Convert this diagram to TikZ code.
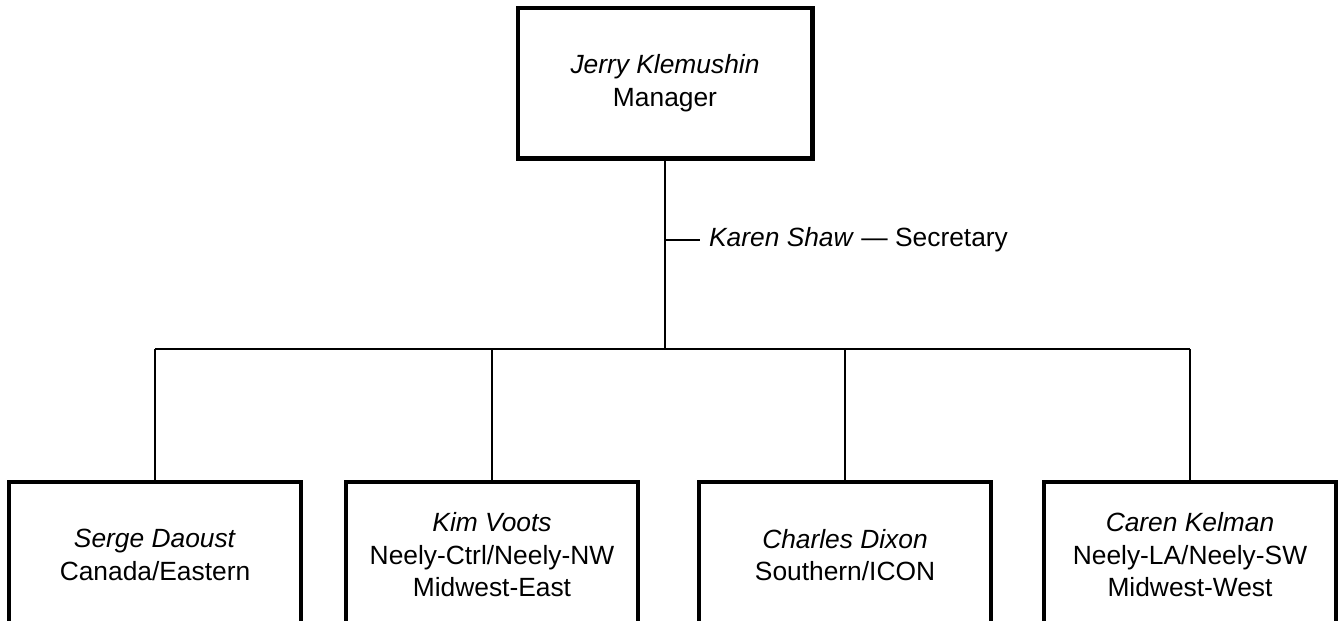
\documentclass[tikz,border=0pt]{standalone}
\usepackage{fontspec}
\setmainfont{Liberation Sans}
\begin{document}
\begin{tikzpicture}[x=0.02cm, y=-0.02cm,
  boss/.style={rectangle, draw=black, line width=2.3pt, minimum width=5.9cm,
    minimum height=3.02cm, align=center, inner sep=0pt,
    font=\fontsize{15}{18.5}\selectfont},
  staff/.style={rectangle, draw=black, line width=2.3pt, minimum width=5.84cm,
    minimum height=2.92cm, align=center, inner sep=0pt,
    font=\fontsize{15}{18.5}\selectfont},
  wire/.style={line width=1.4pt},
  side/.style={anchor=west, inner xsep=5pt, inner ysep=0pt,
    font=\fontsize{15}{18.5}\selectfont},
]
\useasboundingbox (0,0) rectangle (1339,620);

% Manager at the top
\node[boss] (mgr) at (665,83) {\textit{Jerry Klemushin}\\Manager};

% Secretary hangs off the trunk
\coordinate (tee) at (665,240);
\node[side] (sec) at (700,240) {\textit{Karen Shaw} --- Secretary};
\coordinate (bus) at (665,349);

% Regional managers (bottom edges run off the page)
\node[staff] (serge) at (155,555) {\textit{Serge Daoust}\\Canada/Eastern};
\node[staff] (kim) at (492,555) {\textit{Kim Voots}\\Neely-Ctrl/Neely-NW\\Midwest-East};
\node[staff] (charles) at (845,555) {\textit{Charles Dixon}\\Southern/ICON};
\node[staff] (caren) at (1190,555) {\textit{Caren Kelman}\\Neely-LA/Neely-SW\\Midwest-West};

% Connectors
\draw[wire] (mgr.south) -- (bus);
\draw[wire] (tee) -- (sec.west);
\draw[wire] (serge.north |- bus) -- (caren.north |- bus);
\foreach \who in {serge, kim, charles, caren}
  \draw[wire] (\who.north |- bus) -- (\who.north);
\end{tikzpicture}
\end{document}
